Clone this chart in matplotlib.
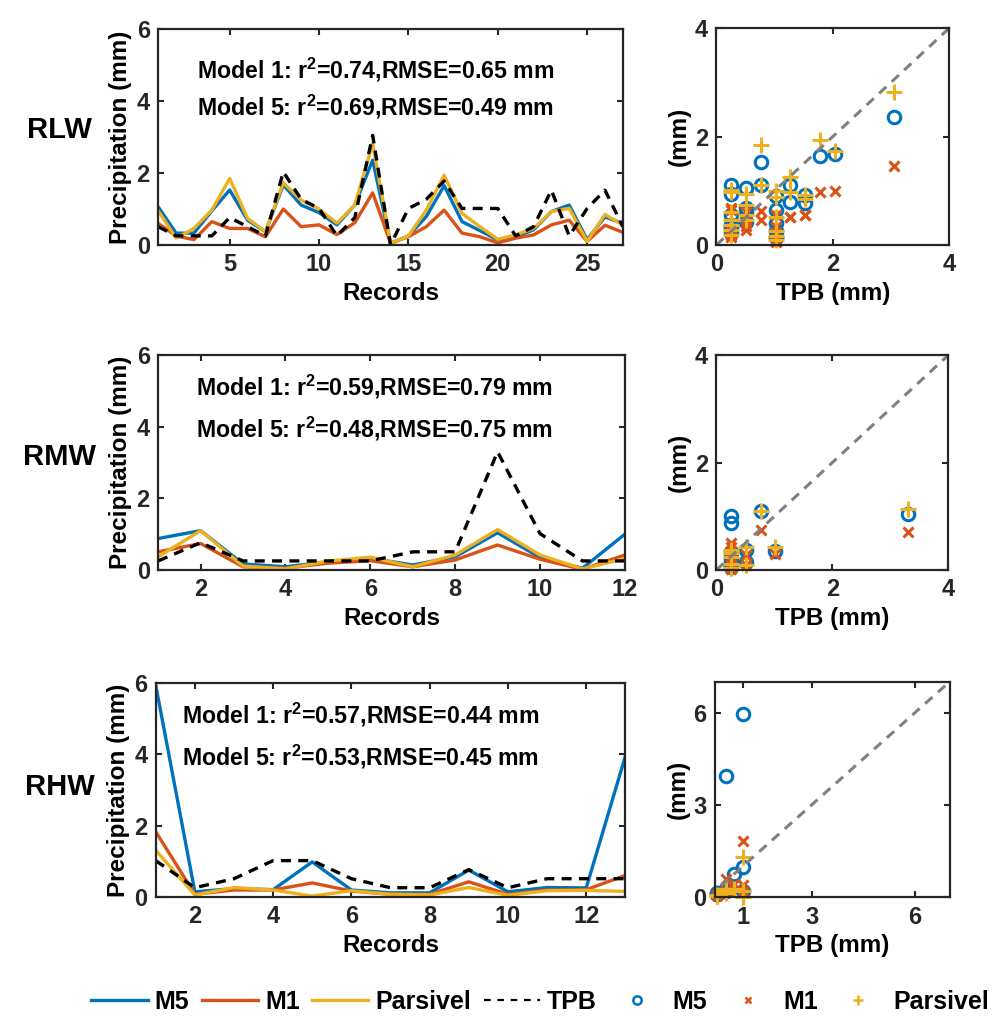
import matplotlib
matplotlib.use('Agg')
import matplotlib.pyplot as plt
from matplotlib.lines import Line2D

plt.rcParams['font.family'] = ['Liberation Sans', 'DejaVu Sans']
plt.rcParams['font.weight'] = 'bold'
plt.rcParams['axes.labelweight'] = 'bold'
plt.rcParams['mathtext.fontset'] = 'custom'
plt.rcParams['mathtext.rm'] = 'Liberation Sans:bold'
plt.rcParams['mathtext.bf'] = 'Liberation Sans:bold'
plt.rcParams['mathtext.it'] = 'Liberation Sans:bold'

C_M5 = '#0072BD'
C_M1 = '#D95319'
C_PAR = '#EDB120'
AX_C = '#262626'

# ---- data (mm) ----
rlw_m5 = [1.06, 0.33, 0.33, 0.95, 1.53, 0.69, 0.37, 1.67, 1.11, 0.90, 0.56, 1.11, 2.36, 0.05,
          0.25, 0.79, 1.65, 0.65, 0.40, 0.14, 0.23, 0.42, 0.93, 1.11, 0.15, 0.78, 0.60]
rlw_m1 = [0.60, 0.25, 0.15, 0.65, 0.46, 0.46, 0.23, 1.00, 0.51, 0.56, 0.29, 0.62, 1.45, 0.05,
          0.23, 0.51, 0.97, 0.33, 0.23, 0.06, 0.19, 0.28, 0.56, 0.69, 0.10, 0.55, 0.35]
rlw_par = [0.95, 0.19, 0.46, 0.97, 1.85, 0.74, 0.37, 1.73, 1.25, 1.00, 0.61, 1.11, 2.82, 0.05,
           0.25, 0.97, 1.94, 0.88, 0.51, 0.16, 0.28, 0.46, 0.93, 1.02, 0.10, 0.85, 0.55]
rlw_tpb = [0.508, 0.254, 0.254, 0.254, 0.762, 0.508, 0.254, 2.032, 1.27, 1.016, 0.254, 0.762, 3.048, 0.0,
           1.016, 1.27, 1.778, 1.016, 1.016, 1.016, 0.254, 0.508, 1.524, 0.254, 1.016, 1.524, 0.508]

rmw_m5 = [0.88, 1.10, 0.17, 0.09, 0.23, 0.33, 0.14, 0.37, 1.04, 0.35, 0.05, 1.00]
rmw_m1 = [0.51, 0.74, 0.09, 0.05, 0.19, 0.26, 0.09, 0.28, 0.70, 0.30, 0.02, 0.42]
rmw_par = [0.37, 1.10, 0.11, 0.03, 0.25, 0.36, 0.09, 0.42, 1.13, 0.42, 0.03, 0.32]
rmw_tpb = [0.254, 0.762, 0.254, 0.254, 0.254, 0.254, 0.508, 0.508, 3.302, 1.016, 0.254, 0.254]

rhw_m5 = [5.95, 0.14, 0.23, 0.20, 0.98, 0.19, 0.11, 0.11, 0.75, 0.14, 0.26, 0.25, 3.95]
rhw_m1 = [1.83, 0.07, 0.19, 0.19, 0.39, 0.16, 0.07, 0.07, 0.42, 0.07, 0.19, 0.20, 0.60]
rhw_par = [1.31, 0.05, 0.26, 0.19, 0.02, 0.17, 0.07, 0.05, 0.26, 0.04, 0.17, 0.18, 0.15]
rhw_tpb = [1.016, 0.254, 0.508, 1.016, 1.016, 0.508, 0.254, 0.254, 0.762, 0.254, 0.508, 0.508, 0.508]

row_names = ['RLW', 'RMW', 'RHW']
stats = [('0.74', '0.65', '0.69', '0.49'),
         ('0.59', '0.79', '0.48', '0.75'),
         ('0.57', '0.44', '0.53', '0.45')]
xticks_line = [[5, 10, 15, 20, 25], [2, 4, 6, 8, 10, 12], [2, 4, 6, 8, 10, 12]]
sc_ticks = [[0, 2, 4], [0, 2, 4], [0, 3, 6]]
sc_xticks = [[0, 2, 4], [0, 2, 4], [1, 3, 6]]
sc_xlim = [(0, 4), (0, 4), (0.2, 7)]
sc_ylim = [(0, 4), (0, 4), (0, 7)]

data = [(rlw_m5, rlw_m1, rlw_par, rlw_tpb),
        (rmw_m5, rmw_m1, rmw_par, rmw_tpb),
        (rhw_m5, rhw_m1, rhw_par, rhw_tpb)]

# layout in figure fractions
line_pos = [[0.159, 0.7605, 0.467, 0.211],
            [0.159, 0.4428, 0.469, 0.210],
            [0.1565, 0.1234, 0.472, 0.2086]]
sc_pos = [[0.720, 0.7605, 0.234, 0.212],
          [0.720, 0.4428, 0.233, 0.210],
          [0.7186, 0.1229, 0.2357, 0.2106]]
txt_pos = [(0.083, 0.81, 0.64), (0.082, 0.853, 0.659), (0.055, 0.851, 0.656)]
row_y = [0.873, 0.553, 0.231]

FS = 16.7

def style(ax):
    for s in ax.spines.values():
        s.set_color(AX_C)
        s.set_linewidth(1.6)
    ax.tick_params(direction='in', length=4, width=1.5, colors=AX_C,
                   labelsize=17, top=True, right=True, pad=6)
    for lab in ax.get_xticklabels() + ax.get_yticklabels():
        lab.set_fontweight('bold')

fig = plt.figure(figsize=(9.95, 10.23), dpi=100)

for i in range(3):
    m5, m1, par, tpb = data[i]
    rec = list(range(1, len(m5) + 1))

    ax = fig.add_axes(line_pos[i])
    ax.plot(rec, m5, color=C_M5, lw=2.4)
    ax.plot(rec, m1, color=C_M1, lw=2.4)
    ax.plot(rec, par, color=C_PAR, lw=2.4)
    ax.plot(rec, tpb, color='black', lw=2.4, ls=(0, (3, 2.2)))
    ax.set_xlim(1, len(m5))
    ax.set_ylim(0, 6)
    ax.set_xticks(xticks_line[i])
    ax.set_yticks([0, 2, 4, 6])
    ax.set_xlabel('Records', fontsize=17.5, labelpad=4)
    ax.set_ylabel('Precipitation (mm)', fontsize=17.5, labelpad=3)
    style(ax)
    r1, e1, r5, e5 = stats[i]
    tx, ty1, ty2 = txt_pos[i]
    ax.text(tx, ty1, 'Model 1: r$^2$=' + r1 + ',RMSE=' + e1 + ' mm', transform=ax.transAxes,
            fontsize=FS, fontweight='bold', va='center', ha='left')
    ax.text(tx, ty2, 'Model 5: r$^2$=' + r5 + ',RMSE=' + e5 + ' mm', transform=ax.transAxes,
            fontsize=FS, fontweight='bold', va='center', ha='left')

    fig.text(0.06, row_y[i], row_names[i], fontsize=21, fontweight='bold',
             ha='center', va='center')

    # scatter vs TPB (records with zero TPB are not shown)
    keep = [k for k in range(len(tpb)) if tpb[k] > 0]
    xs = [tpb[k] for k in keep]
    sx = fig.add_axes(sc_pos[i])
    sx.plot(xs, [m5[k] for k in keep], 'o', ls='none', mfc='none', mec=C_M5, ms=9, mew=2.2, clip_on=False)
    sx.plot(xs, [m1[k] for k in keep], 'x', ls='none', color=C_M1, ms=7, mew=2.2, clip_on=False)
    sx.plot(xs, [par[k] for k in keep], '+', ls='none', color=C_PAR, ms=11, mew=2.2, clip_on=False)
    lim = sc_ylim[i][1]
    sx.plot([0, lim], [0, lim], color='#808080', lw=2.2, ls=(0, (3.2, 2.4)))
    sx.set_xlim(*sc_xlim[i])
    sx.set_ylim(*sc_ylim[i])
    sx.set_xticks(sc_xticks[i])
    sx.set_yticks(sc_ticks[i])
    sx.set_xlabel('TPB (mm)', fontsize=17.5, labelpad=4)
    sx.set_ylabel('(mm)', fontsize=17.5, labelpad=3)
    style(sx)

handles = [Line2D([], [], color=C_M5, lw=2.4),
           Line2D([], [], color=C_M1, lw=2.4),
           Line2D([], [], color=C_PAR, lw=2.4),
           Line2D([], [], color='black', lw=1.6, ls=(0, (3, 3))),
           Line2D([], [], marker='o', ls='none', mfc='none', mec=C_M5, ms=6, mew=1.8),
           Line2D([], [], marker='x', ls='none', color=C_M1, ms=5, mew=1.8),
           Line2D([], [], marker='+', ls='none', color=C_PAR, ms=7, mew=1.8)]
labels = ['M5', 'M1', 'Parsivel', 'TPB', 'M5', 'M1', 'Parsivel']
fig.legend(handles, labels, loc='center', bbox_to_anchor=(0.543, 0.021), ncol=7,
           frameon=False, handlelength=2.25, handletextpad=0.28,
           columnspacing=0.5, borderpad=0, prop={'weight': 'bold', 'size': 18})

fig.savefig('out.png', dpi=100)
